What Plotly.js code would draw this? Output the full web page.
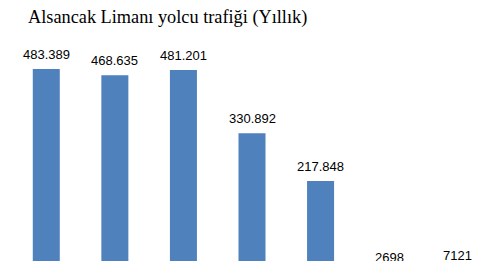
<!DOCTYPE html>
<html>
<head>
<meta charset="utf-8">
<script src="https://cdn.plot.ly/plotly-3.0.1.min.js"></script>
<style>
html, body { margin: 0; padding: 0; background: #fff; overflow: hidden; }
#wrap { width: 500px; height: 261px; overflow: hidden; position: relative; }
#chart { width: 500px; height: 313px; }
</style>
</head>
<body>
<div id="wrap"><div id="chart"></div></div>
<script>
// Data (the x-axis labels lie below the visible crop of the reference)
var years = ['2011', '2012', '2013', '2014', '2015', '2016', '2017'];
var passengers = [483389, 468635, 481201, 330892, 217848, 2698, 7121];
var labels = ['483.389', '468.635', '481.201', '330.892', '217.848', '2698', '7121'];

var trace = {
  type: 'bar',
  x: years,
  y: passengers,
  marker: { color: '#4F81BD' },
  hoverinfo: 'none'
};

// value labels above each bar, positioned through the axes (category index, value)
var annotations = years.map(function (yr, i) {
  return {
    x: i, y: passengers[i], xref: 'x', yref: 'y',
    text: labels[i], showarrow: false,
    xanchor: 'center', yanchor: 'bottom', yshift: 5,
    font: { family: 'Liberation Sans, Arial, sans-serif', size: 13, color: '#000000' }
  };
});

var layout = {
  width: 500,
  height: 313,
  margin: { l: 12, r: 8, t: 40, b: 40 },
  paper_bgcolor: '#ffffff',
  plot_bgcolor: '#ffffff',
  bargap: 0.606,
  showlegend: false,
  annotations: annotations,
  title: {
    text: 'Alsancak Limanı yolcu trafiği (Yıllık)',
    font: { family: 'Liberation Serif, Times New Roman, serif', size: 18.3, color: '#000000' },
    xref: 'container', x: 28 / 500, xanchor: 'left',
    yref: 'container', y: 1 - 17 / 313, yanchor: 'middle'
  },
  xaxis: {
    type: 'category',
    categoryorder: 'array', categoryarray: years,
    range: [-0.5, years.length - 0.5],
    showgrid: false, zeroline: false, showline: false,
    ticks: '', showticklabels: false
  },
  yaxis: {
    range: [0, 552000],
    showgrid: false, zeroline: false, showline: false,
    ticks: '', showticklabels: false
  }
};

Plotly.newPlot('chart', [trace], layout, { displayModeBar: false, staticPlot: true });
</script>
</body>
</html>
